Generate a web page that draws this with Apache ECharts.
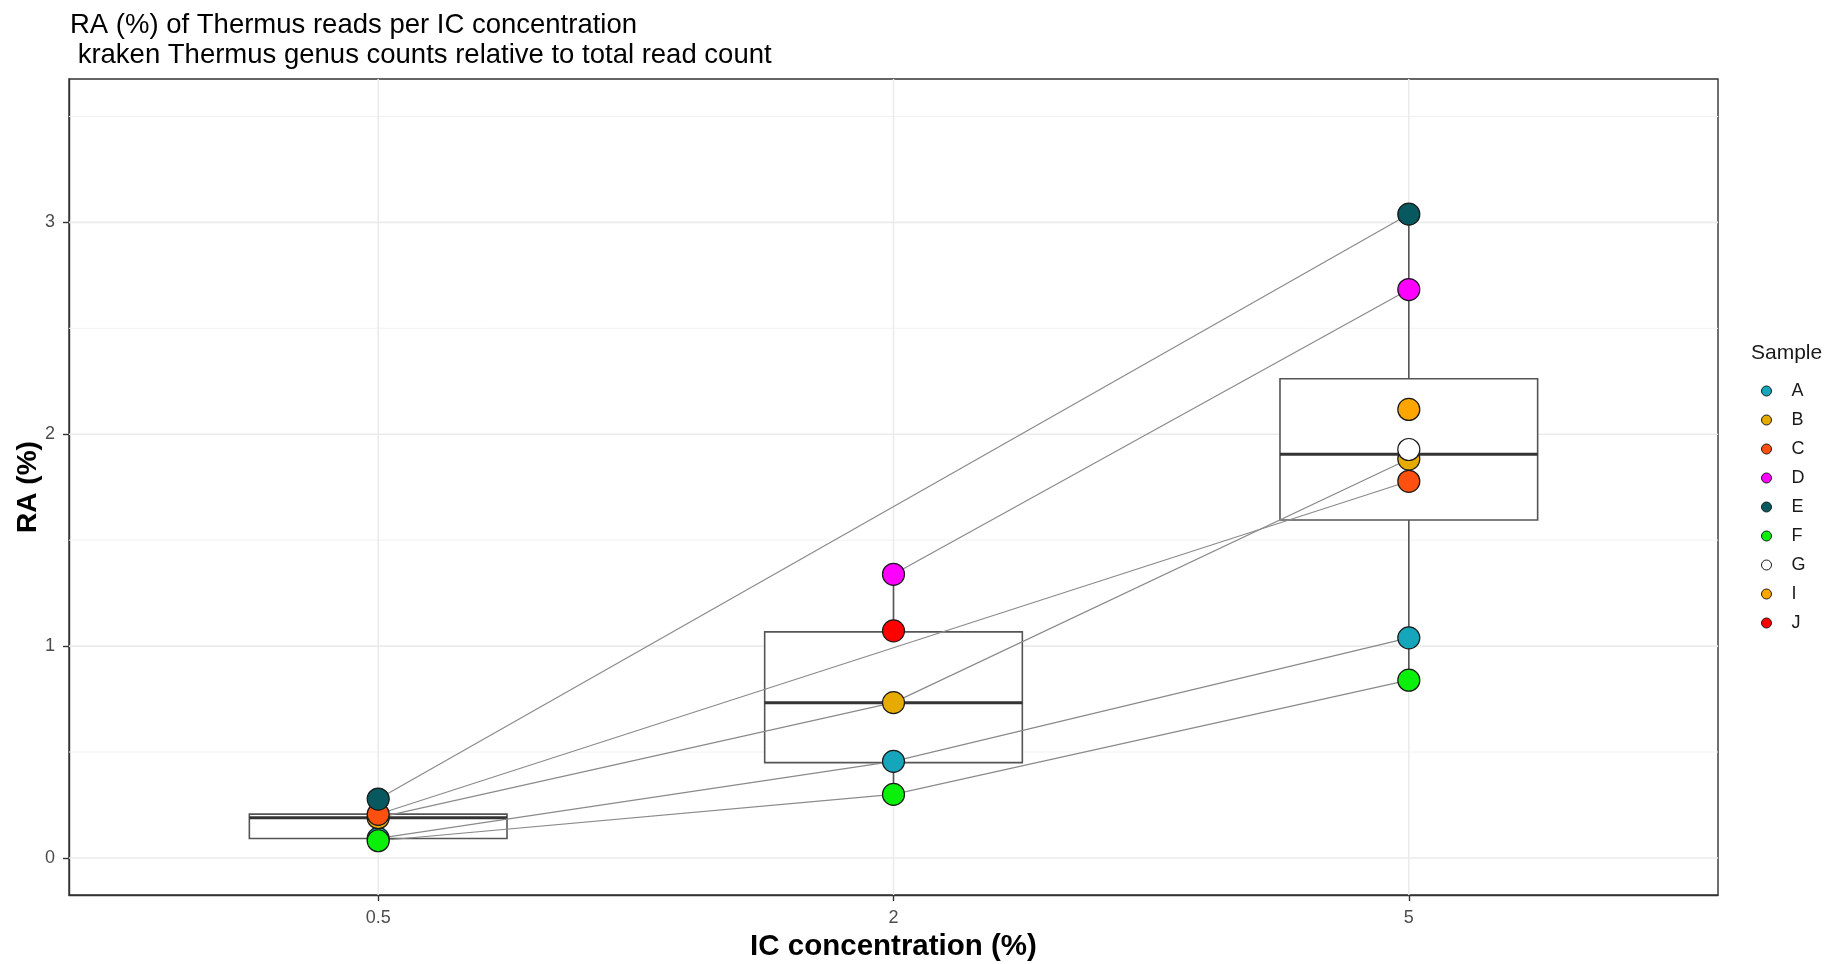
<!DOCTYPE html>
<html>
<head>
<meta charset="utf-8">
<script src="https://cdn.jsdelivr.net/npm/echarts@6/dist/echarts.min.js"></script>
<style>
html,body{margin:0;padding:0;background:#fff;}
#chart{width:1845px;height:964px;}
</style>
</head>
<body>
<div id="chart"></div>
<script>
// ---- data ----
const concLabels = ['0.5', '2', '5'];
const samples = ['A', 'B', 'C', 'D', 'E', 'F', 'G', 'I', 'J'];
const sampleColors = ['#15A6BC', '#E6AA00', '#FF5010', '#FF00FF', '#07595F', '#0AF00A', '#FFFFFF', '#FFA500', '#FF0000'];
const valA = [0.092, 0.456, 1.039];
const valB = [0.190, 0.733, 1.883];
const valC = [0.206, null, 1.778];
const valD = [null, 1.339, 2.683];
const valE = [0.278, null, 3.039];
const valF = [0.081, 0.300, 0.839];
const valG = [null, null, 1.928];
const valI = [null, null, 2.117];
const valJ = [null, 1.072, null];
const sampleValues = [valA, valB, valC, valD, valE, valF, valG, valI, valJ];

const boxLow    = [0.081, 0.300, 0.839];
const boxQ1     = [0.092, 0.450, 1.595];
const boxMedian = [0.190, 0.733, 1.906];
const boxQ3     = [0.207, 1.067, 2.262];
const boxHigh   = [0.278, 1.339, 3.039];

const yTicks = [0, 1, 2, 3];
const yMinor = [0.5, 1.5, 2.5, 3.5];
const xTicks = concLabels.map((_, i) => i);

// ---- build ----
const FONT = 'Liberation Sans, Arial, sans-serif';

const boxData = concLabels.map((_, i) => [i, boxLow[i], boxQ1[i], boxMedian[i], boxQ3[i], boxHigh[i]]);

function hLineSeries(values, color, width) {
  return {
    type: 'custom', silent: true, z: 1,
    data: values.map(v => [v]),
    encode: { y: 0 },
    renderItem: function (params, api) {
      const cs = params.coordSys;
      const y = api.coord([0, api.value(0)])[1];
      return { type: 'line', shape: { x1: cs.x, y1: y, x2: cs.x + cs.width, y2: y },
               style: { stroke: color, lineWidth: width } };
    }
  };
}
function vLineSeries(values, color, width) {
  return {
    type: 'custom', silent: true, z: 1,
    data: values.map(v => [v]),
    encode: { x: 0 },
    renderItem: function (params, api) {
      const cs = params.coordSys;
      const x = api.coord([api.value(0), 0])[0];
      return { type: 'line', shape: { x1: x, y1: cs.y, x2: x, y2: cs.y + cs.height },
               style: { stroke: color, lineWidth: width } };
    }
  };
}

const series = [
  hLineSeries(yMinor, '#F2F2F2', 1),
  hLineSeries(yTicks, '#EBEBEB', 1.6),
  vLineSeries(xTicks, '#EBEBEB', 1.6),
  {
    type: 'custom', name: 'box', silent: true, z: 2,
    data: boxData,
    encode: { x: 0, y: [1, 2, 3, 4, 5] },
    renderItem: function (params, api) {
      const x = api.value(0);
      const cx = api.coord([x, 0])[0];
      const xl = api.coord([x - 0.25, 0])[0];
      const xr = api.coord([x + 0.25, 0])[0];
      const yLow = api.coord([x, api.value(1)])[1];
      const yQ1 = api.coord([x, api.value(2)])[1];
      const yMed = api.coord([x, api.value(3)])[1];
      const yQ3 = api.coord([x, api.value(4)])[1];
      const yHigh = api.coord([x, api.value(5)])[1];
      const st = { stroke: '#555555', lineWidth: 1.6 };
      return { type: 'group', children: [
        { type: 'line', shape: { x1: cx, y1: yLow, x2: cx, y2: yQ1 }, style: st },
        { type: 'line', shape: { x1: cx, y1: yQ3, x2: cx, y2: yHigh }, style: st },
        { type: 'rect', shape: { x: xl, y: yQ3, width: xr - xl, height: yQ1 - yQ3 },
          style: { fill: '#FFFFFF', stroke: '#555555', lineWidth: 1.6 } },
        { type: 'line', shape: { x1: xl, y1: yMed, x2: xr, y2: yMed }, style: { stroke: '#333333', lineWidth: 3 } }
      ]};
    }
  }
];

samples.forEach((s, k) => {
  const pts = [];
  sampleValues[k].forEach((v, i) => { if (v !== null) pts.push([i, v]); });
  series.push({
    type: 'line', name: s + '_line', z: 3, silent: true,
    data: pts, symbol: 'none',
    lineStyle: { color: '#8A8A8A', width: 1.2 }
  });
});
samples.forEach((s, k) => {
  const pts = [];
  sampleValues[k].forEach((v, i) => { if (v !== null) pts.push([i, v]); });
  series.push({
    type: 'scatter', name: s, z: 4,
    data: pts, symbol: 'circle', symbolSize: 22,
    itemStyle: { color: sampleColors[k], borderColor: '#1A1A1A', borderWidth: 1.2, opacity: 1 }
  });
});

const option = {
  animation: false,
  backgroundColor: '#FFFFFF',
  textStyle: { fontFamily: FONT },
  title: [
    { text: 'RA (%) of Thermus reads per IC concentration\n kraken Thermus genus counts relative to total read count',
      left: 70, top: 10, padding: 0,
      textStyle: { fontFamily: FONT, fontSize: 27.5, lineHeight: 30, fontWeight: 'normal', color: '#000000' } },
    { text: 'Sample', left: 1751, top: 343, padding: 0,
      textStyle: { fontFamily: FONT, fontSize: 21, fontWeight: 'normal', color: '#1A1A1A' } }
  ],
  legend: {
    data: samples, orient: 'vertical', left: 1761, top: 382, padding: 0,
    itemWidth: 40, itemHeight: 10, itemGap: 11, icon: 'circle',
    itemStyle: { borderColor: '#1A1A1A', borderWidth: 1 },
    textStyle: { fontFamily: FONT, fontSize: 18, lineHeight: 18, color: '#1A1A1A' },
    selectedMode: false
  },
  grid: {
    left: 69, top: 79, width: 1649, height: 816, outerBoundsMode: 'none', containLabel: false,
    show: true, borderColor: '#333333', borderWidth: 1.4, backgroundColor: '#FFFFFF'
  },
  xAxis: {
    type: 'value', min: -0.6, max: 2.6,
    axisLine: { show: true, onZero: false, lineStyle: { color: '#333333', width: 1.4 } },
    splitLine: { show: false },
    axisTick: { show: true, customValues: xTicks, length: 6, lineStyle: { color: '#333333', width: 1.4 } },
    axisLabel: { customValues: xTicks, formatter: v => concLabels[Math.round(v)], fontSize: 18,
                 color: '#4D4D4D', margin: 14, fontFamily: FONT },
    name: 'IC concentration (%)', nameLocation: 'middle', nameGap: 37, nameMoveOverlap: false,
    nameTextStyle: { fontFamily: FONT, fontSize: 29.5, fontWeight: 'bold', color: '#000000' }
  },
  yAxis: {
    type: 'value', min: -0.175, max: 3.677,
    axisLine: { show: true, onZero: false, lineStyle: { color: '#333333', width: 1.4 } },
    splitLine: { show: false },
    axisTick: { show: true, customValues: yTicks, length: 6, lineStyle: { color: '#333333', width: 1.4 } },
    axisLabel: { customValues: yTicks, fontSize: 18, color: '#4D4D4D', margin: 14, fontFamily: FONT },
    name: 'RA (%)', nameLocation: 'middle', nameGap: 27, nameRotate: 90, nameMoveOverlap: false,
    nameTextStyle: { fontFamily: FONT, fontSize: 28, fontWeight: 'bold', color: '#000000' }
  },
  series: series
};

const chart = echarts.init(document.getElementById('chart'));
chart.setOption(option);
</script>
</body>
</html>
